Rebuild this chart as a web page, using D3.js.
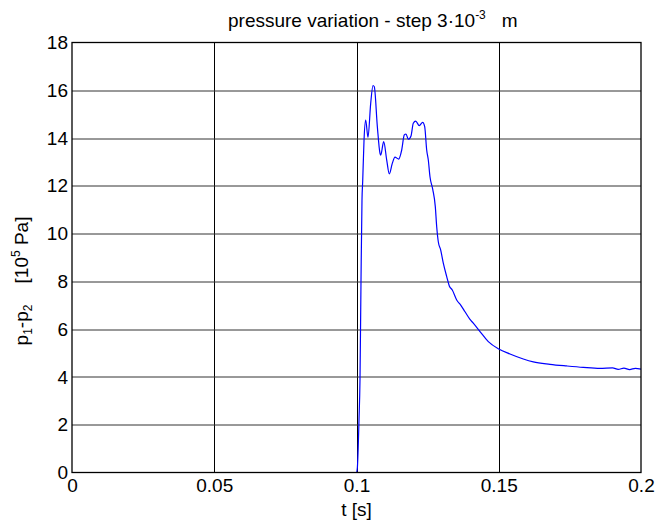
<!DOCTYPE html>
<html>
<head>
<meta charset="utf-8">
<script src="https://cdn.jsdelivr.net/npm/d3@7"></script>
<style>
  body { margin: 0; background: #fff; }
  text { font-family: "Liberation Sans", Arial, sans-serif; }
</style>
</head>
<body>
<div id="chart"></div>
<script>
// time [s]
var tVals = [0, 0.1, 0.1003, 0.10088, 0.10123, 0.10158, 0.10193, 0.10218, 0.10264, 0.10323,
  0.10404, 0.10499, 0.1058, 0.10626, 0.10731, 0.10826, 0.10851, 0.10956, 0.11062, 0.11153,
  0.11258, 0.11353, 0.11483, 0.11589, 0.1168, 0.1174, 0.11821, 0.11916, 0.11996, 0.12081,
  0.12207, 0.12327, 0.12397, 0.12467, 0.12524, 0.12583, 0.1268, 0.1277, 0.12819, 0.12875,
  0.1296, 0.13051, 0.13171, 0.13262, 0.13367, 0.13522, 0.13663, 0.13814, 0.13989, 0.14105,
  0.14341, 0.14633, 0.14998, 0.15395, 0.15863, 0.16214, 0.16801, 0.17388, 0.17972, 0.18559,
  0.19, 0.192, 0.194, 0.196, 0.198, 0.2];
// p1-p2 [10^5 Pa]
var dpVals = [0, 0, 0.2, 2.2, 3.9, 8, 11.4, 12.2, 13.9, 14.75,
  14.03, 15.45, 16.2, 16.15, 14.5, 13.36, 13.28, 13.85, 13.08, 12.5,
  12.94, 13.2, 13.12, 13.5, 14.13, 14.17, 13.95, 14.09, 14.62, 14.71,
  14.52, 14.66, 14.48, 13.5, 13.08, 12.38, 11.85, 11.13, 10.29, 9.66,
  9.31, 8.76, 8.2, 7.81, 7.64, 7.22, 7.01, 6.73, 6.41, 6.25,
  5.9, 5.48, 5.17, 4.96, 4.75, 4.63, 4.53, 4.46, 4.4, 4.36,
  4.38, 4.32, 4.37, 4.31, 4.36, 4.33];
var xTicks = [0, 0.05, 0.1, 0.15, 0.2];
var xTickLabels = ["0", "0.05", "0.1", "0.15", "0.2"];
var yTicks = [0, 2, 4, 6, 8, 10, 12, 14, 16, 18];

var W = 657, H = 520;
var margin = {left: 72, right: 16, top: 42.5, bottom: 47.5};
var width = W - margin.left - margin.right,
    height = H - margin.top - margin.bottom;
var fs = 19;

var svg = d3.select("#chart").append("svg")
    .attr("width", W)
    .attr("height", H);

var g = svg.append("g")
    .attr("transform", "translate(" + margin.left + "," + margin.top + ")");

var x = d3.scaleLinear().domain([0, 0.2]).range([0, width]);
var y = d3.scaleLinear().domain([0, 18]).range([height, 0]);

// grid
g.append("g").selectAll("line")
  .data(xTicks.slice(1, -1))
  .enter().append("line")
    .attr("x1", function(d) { return Math.round(x(d)) + 0.5; })
    .attr("x2", function(d) { return Math.round(x(d)) + 0.5; })
    .attr("y1", 0).attr("y2", height)
    .attr("stroke", "#000").attr("stroke-width", 1);

g.append("g").selectAll("line")
  .data(yTicks.slice(1, -1))
  .enter().append("line")
    .attr("x1", 0).attr("x2", width)
    .attr("y1", function(d) { return Math.round(y(d)) + 0.5; })
    .attr("y2", function(d) { return Math.round(y(d)) + 0.5; })
    .attr("stroke", "#333").attr("stroke-width", 1);

// the curve
g.append("path")
  .datum(d3.range(tVals.length))
  .attr("fill", "none")
  .attr("stroke", "#0000ff")
  .attr("stroke-width", 1.2)
  .attr("d", d3.line()
    .x(function(i) { return x(tVals[i]); })
    .y(function(i) { return y(dpVals[i]); })
    .curve(d3.curveMonotoneX));

// box
g.append("rect")
  .attr("x", 0).attr("y", 0)
  .attr("width", width).attr("height", height)
  .attr("fill", "none")
  .attr("stroke", "#000")
  .attr("stroke-width", 1.3);

// axes
var xAx = g.append("g")
  .attr("transform", "translate(0," + height + ")")
  .call(d3.axisBottom(x).tickValues(xTicks)
    .tickFormat(function(d, i) { return xTickLabels[i]; })
    .tickSize(0).tickPadding(2));
var yAx = g.append("g")
  .call(d3.axisLeft(y).tickValues(yTicks).tickSize(0).tickPadding(4));

[xAx, yAx].forEach(function(a) {
  a.select(".domain").remove();
  a.selectAll("text")
    .attr("font-size", fs)
    .attr("font-family", "Liberation Sans, Arial, sans-serif")
    .attr("fill", "#000");
});
xAx.selectAll("text").attr("dy", "0.9em");
yAx.selectAll("text").attr("dy", "0.32em");

// title
var title = svg.append("text")
  .attr("x", 228)
  .attr("y", 27)
  .attr("font-size", fs);
title.append("tspan").text("pressure variation - step 3\u00b710");
title.append("tspan").attr("font-size", 12).attr("dy", -8).text("-3");
title.append("tspan").attr("dy", 8).text("\u00a0\u00a0 m");

// x label
svg.append("text")
  .attr("x", margin.left + width / 2)
  .attr("y", 516)
  .attr("text-anchor", "middle")
  .attr("font-size", fs)
  .text("t [s]");

// y label
var yl = svg.append("text")
  .attr("transform", "translate(28,281) rotate(-90)")
  .attr("text-anchor", "middle")
  .attr("font-size", fs);
yl.append("tspan").text("p");
yl.append("tspan").attr("font-size", 12).attr("dy", 4).text("1");
yl.append("tspan").attr("dy", -4).text("-p");
yl.append("tspan").attr("font-size", 12).attr("dy", 4).text("2");
yl.append("tspan").attr("dy", -4).text("\u00a0\u00a0\u00a0 [10");
yl.append("tspan").attr("font-size", 12).attr("dy", -8).text("5");
yl.append("tspan").attr("dy", 8).text(" Pa]");
</script>
</body>
</html>
